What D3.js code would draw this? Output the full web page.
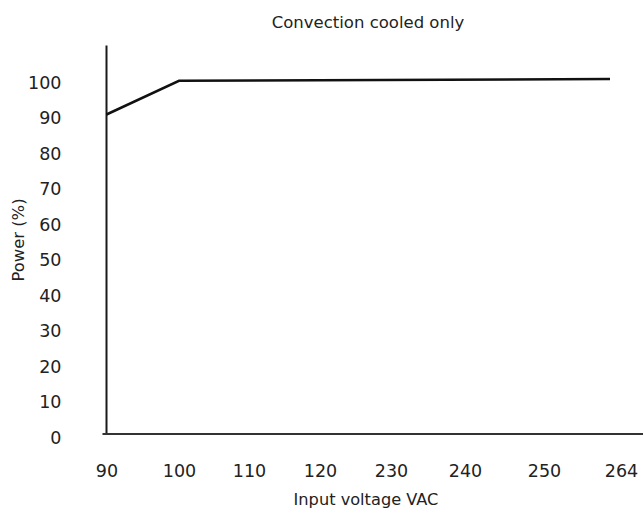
<!DOCTYPE html>
<html>
<head>
<meta charset="utf-8">
<script src="https://cdn.jsdelivr.net/npm/d3@7"></script>
<style>
  body { margin: 0; background: #fff; }
  text { font-family: "DejaVu Sans", sans-serif; fill: #222; }
</style>
</head>
<body>
<svg id="chart" width="643" height="511"></svg>
<script>
// data
var voltages = [90, 100, 110, 120, 230, 240, 250, 264];
var powerTicks = [0, 10, 20, 30, 40, 50, 60, 70, 80, 90, 100];
var curveVolts = [90, 100, 262];
var curvePower = [90, 99.5, 100];

// uneven spacing of the original x axis (pixel stop per voltage label)
var xStops = [106.5, 179, 249, 320, 391, 465, 544, 621];

var svg = d3.select("#chart");

var x = d3.scaleLinear().domain(voltages).range(xStops);
var y = d3.scaleLinear().domain([0, 100]).range([434, 79]);

// axes lines
svg.append("line")
   .attr("x1", x(90)).attr("x2", x(90))
   .attr("y1", 45.5).attr("y2", y(0))
   .attr("stroke", "#1a1a1a").attr("stroke-width", 2);
svg.append("line")
   .attr("x1", x(90) - 4).attr("x2", 643)
   .attr("y1", y(0)).attr("y2", y(0))
   .attr("stroke", "#333").attr("stroke-width", 2);

// y tick labels
var yAxis = svg.append("g")
   .attr("transform", "translate(61.5, 3.5)")
   .call(d3.axisLeft(y).tickValues(powerTicks).tickSize(0).tickPadding(0));
yAxis.select(".domain").remove();
yAxis.selectAll("text")
   .style("font-family", "'DejaVu Sans', sans-serif")
   .style("font-size", "17.5px")
   .attr("fill", "#222");

// x tick labels
var xAxis = svg.append("g")
   .attr("transform", "translate(0, 465)")
   .call(d3.axisBottom(x).tickValues(voltages).tickFormat(d3.format("d")).tickSize(0).tickPadding(0));
xAxis.select(".domain").remove();
xAxis.selectAll("text")
   .style("font-family", "'DejaVu Sans', sans-serif")
   .style("font-size", "17.5px")
   .attr("fill", "#222");

// curve
var pts = curveVolts.map(function(v, i) { return [v, curvePower[i]]; });
svg.append("path")
   .datum(pts)
   .attr("fill", "none")
   .attr("stroke", "#111")
   .attr("stroke-width", 2.5)
   .attr("d", d3.line().x(function(d) { return x(d[0]); }).y(function(d) { return y(d[1]); }));

// titles
svg.append("text")
   .attr("x", 368).attr("y", 28)
   .attr("text-anchor", "middle")
   .style("font-size", "16.5px")
   .text("Convection cooled only");
svg.append("text")
   .attr("x", 366).attr("y", 505)
   .attr("text-anchor", "middle")
   .style("font-size", "16.2px")
   .text("Input voltage VAC");
svg.append("text")
   .attr("transform", "translate(24, 240) rotate(-90)")
   .attr("text-anchor", "middle")
   .style("font-size", "16.4px")
   .text("Power (%)");
</script>
</body>
</html>
